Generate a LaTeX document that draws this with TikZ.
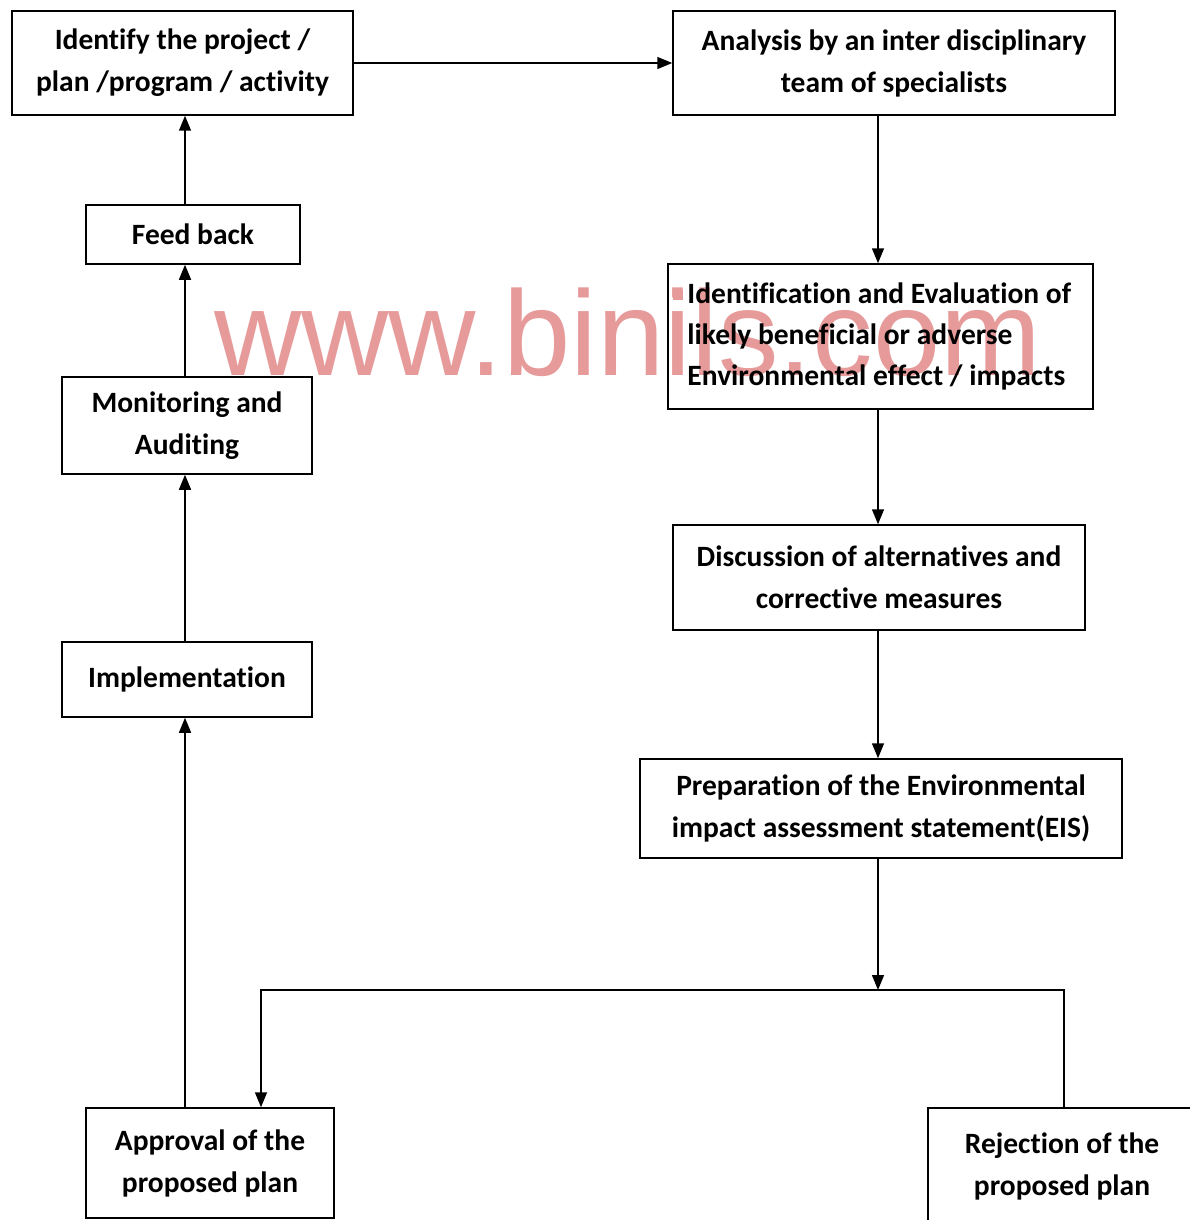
\documentclass[tikz,border=0pt]{standalone}
\usepackage{fontspec}
\setmainfont{Carlito}[Ligatures=NoCommon]
\newfontfamily\markfont{Liberation Sans}
\usetikzlibrary{arrows.meta, positioning, calc}
\definecolor{wmpink}{RGB}{231,154,154}

\begin{document}
\begin{tikzpicture}[
  x=1pt, y=-1pt,
  box/.style={draw, line width=1.5pt, align=center, inner sep=0pt,
    font=\fontsize{29.5}{42}\selectfont\bfseries},
  link/.style={line width=1.5pt},
  arr/.style={link, -{Triangle[length=15pt, width=12pt]}}
]
\useasboundingbox (0,0) rectangle (1190,1220);
% watermark
\node[anchor=base west, inner sep=0pt, text=wmpink, font=\fontsize{121}{121}\selectfont\markfont] (wmark) at (214,375) {www.binils.com};
% column guides
\coordinate (lcol) at (185,0);
\coordinate (rcol) at (878,0);
\coordinate (apx) at (261,0);
\coordinate (rjx) at (1064,0);
\coordinate (split) at (878,990);
% boxes
\node[box, minimum width=341pt, minimum height=104pt] (proj) at (182.5,63) {Identify the project /\\plan /program / activity};
\node[box, minimum width=442pt, minimum height=104pt] (anal) at (894,63) {Analysis by an inter disciplinary\\team of specialists};
\node[box, minimum width=214pt, minimum height=59pt] (feed) at (193,234.5) {Feed back};
\node[box, minimum width=250pt, minimum height=97pt] (monit) at (187,425.5) {Monitoring and\\Auditing};
\node[box, minimum width=250pt, minimum height=75pt] (impl) at (187,679.5) {Implementation};
\node[box, minimum width=425pt, minimum height=145pt] (ident) at (880.5,336.5) {};
\node[anchor=west, align=left, inner sep=0pt, font=\fontsize{29.5}{41}\selectfont\bfseries] (identtxt) at ([xshift=20pt]ident.west) {Identification and Evaluation of\\likely beneficial or adverse\\Environmental effect / impacts};
\fill[wmpink] (673,290) rectangle (683,300);
\node[box, minimum width=412pt, minimum height=105pt] (disc) at (879,577.5) {Discussion of alternatives and\\corrective measures};
\node[box, minimum width=482pt, minimum height=99pt] (prep) at (881,808.5) {Preparation of the Environmental\\impact assessment statement(EIS)};
\node[box, minimum width=248pt, minimum height=110pt] (appr) at (210,1163) {Approval of the\\proposed plan};
\node[box, minimum width=268pt, minimum height=116pt] (rejc) at (1062,1166) {Rejection of the\\proposed plan};
% connectors
\draw[arr] (proj) -- (anal);
\draw[arr] (anal.south -| rcol) -- (ident.north -| rcol);
\draw[arr] (ident.south -| rcol) -- (disc.north -| rcol);
\draw[arr] (disc.south -| rcol) -- (prep.north -| rcol);
\draw[arr] (prep.south -| rcol) -- (split);
\draw[arr] (split) -| (appr.north -| apx);
\draw[link] (split) -| (rejc.north -| rjx);
\draw[arr] (appr.north -| lcol) -- (impl.south -| lcol);
\draw[arr] (impl.north -| lcol) -- (monit.south -| lcol);
\draw[arr] (monit.north -| lcol) -- (feed.south -| lcol);
\draw[arr] (feed.north -| lcol) -- (proj.south -| lcol);
\end{tikzpicture}
\end{document}
